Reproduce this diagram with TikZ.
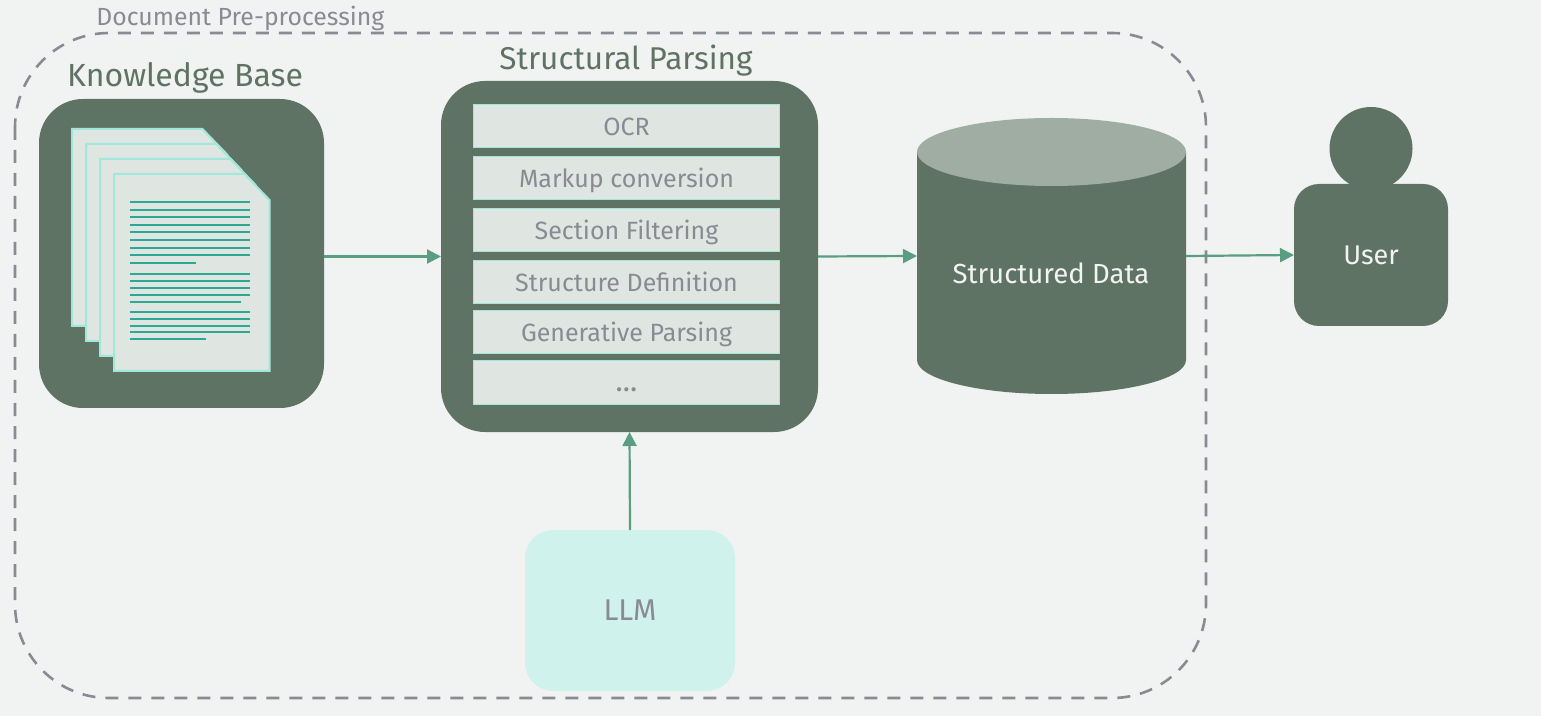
\documentclass[tikz,border=0pt]{standalone}
\usepackage{fontspec}
\setmainfont{Fira Sans}[Scale=1.0]
\usetikzlibrary{arrows.meta}
\definecolor{bgc}{HTML}{F1F3F2}
\definecolor{darkg}{HTML}{5F7364}
\definecolor{topg}{HTML}{A0ADA2}
\definecolor{paper}{HTML}{DFE5E0}
\definecolor{mint}{HTML}{9FE8DA}
\definecolor{llmc}{HTML}{CFF3EC}
\definecolor{greyt}{HTML}{8A8A92}
\definecolor{arrowc}{HTML}{5A9E82}
\definecolor{linec}{HTML}{2AA994}
\tikzset{
  x=0.5pt,y=-0.5pt,
  hbox/.style={fill=darkg,draw=none,rounded corners=22pt,inner sep=0pt,outer sep=0pt},
  row/.style={fill=paper,draw=mint,line width=0.8pt,inner sep=0pt,outer sep=0pt,minimum width=153pt,text=greyt,text height=12pt,text depth=2.5pt,font=\fontsize{12.5}{15}\selectfont},
  flow/.style={draw=arrowc,line width=1.1pt,-{Triangle[length=7pt,width=7pt]}},
  page/.style={fill=paper,draw=mint,line width=1pt,line join=miter},
  txt/.style={line width=1pt,draw=linec},
  title/.style={text=darkg,inner sep=0pt},
}
\newcommand{\docpage}[2]{%
  \draw[page] (#1,#2) -- (#1+130.5,#2) -- (#1+155.5,#2+26) -- (#1+155.5,#2+197) -- (#1,#2+197) -- cycle;}
\newcommand{\tl}[2][250]{\draw[txt] (130,#2) -- (#1,#2);}
\begin{document}
\begin{tikzpicture}
\useasboundingbox (0,0) rectangle (1541,716);
\fill[bgc] (0,0) rectangle (1541,716);
% dashed frame
\draw[greyt,line width=1.3pt,dash pattern=on 6.5pt off 5pt,rounded corners=47pt] (15,33) rectangle (1206,698);
\node[anchor=west,text=greyt,inner sep=0pt,font=\fontsize{12.4}{15}\selectfont] (prep) at (96,18) {Document Pre-processing};
% knowledge base
\node[hbox,minimum width=142.5pt,minimum height=154.5pt] (kb) at (181.5,253.5) {};
\node[title,font=\fontsize{16}{18}\selectfont] (kbt) at (185,78) {Knowledge Base};
\docpage{72}{129}\docpage{86}{144}\docpage{100}{159}\docpage{114}{174}
\tl{202}\tl{210}\tl{217}\tl{225}\tl{232}\tl{240}\tl{248}\tl{255}\tl[196]{263}
\tl{274}\tl{281}\tl{288}\tl{295}\tl[241]{302}
\tl{312}\tl{319}\tl{326}\tl{332}\tl[206]{339}
% structural parsing
\node[hbox,minimum width=188.5pt,minimum height=175.5pt] (sp) at (629.5,256.5) {};
\node[title,font=\fontsize{15.75}{18}\selectfont] (spt) at (626,60.5) {Structural Parsing};
\node[row,minimum height=21.5pt] (r1) at (626.5,126) {OCR};
\node[row,minimum height=21.5pt] (r2) at (626.5,178) {Markup conversion};
\node[row,minimum height=21.5pt] (r3) at (626.5,230) {Section Filtering};
\node[row,minimum height=21.5pt] (r4) at (626.5,282) {Structure Definition};
\node[row,minimum height=21.5pt] (r5) at (626.5,332) {Generative Parsing};
\node[row,minimum height=22pt,font=\fontsize{15}{15}\selectfont] (r6) at (626.5,382.5) {...};
% LLM
\node[fill=llmc,rounded corners=14pt,minimum width=105pt,minimum height=80.5pt,inner sep=0pt,outer sep=0pt,text=greyt,font=\fontsize{15}{16}\selectfont] (llm) at (630,610.5) {\raisebox{-0.5pt}{LLM}};
% cylinder
\node[minimum width=134.5pt,minimum height=138pt,inner sep=0pt,outer sep=0pt] (db) at (1051.5,256) {};
\fill[darkg] (917,152) -- (917,360) arc[start angle=180,end angle=0,x radius=134.5,y radius=34] -- (1186,152) -- cycle;
\fill[topg] (1051.5,152) ellipse[x radius=134.5,y radius=34];
\node[text=white!92!darkg,inner sep=0pt,font=\fontsize{13.8}{16}\selectfont] (dbt) at (1051,273) {Structured Data};
% user
\node[circle,fill=darkg,minimum size=41.5pt,inner sep=0pt] (head) at (1371,148.5) {};
\node[hbox,rounded corners=12.5pt,minimum width=77pt,minimum height=71pt,text=white!92!darkg,font=\fontsize{13.5}{16}\selectfont] (user) at (1371,255) {\raisebox{-1pt}{User}};
% connectors
\draw[flow] (kb.east |- sp.west) -- (sp.west);
\draw[flow] (llm.north) -- (sp.south);
\draw[flow] (sp.east) -- (db.west);
\draw[flow] (db.east) -- (user.west);
\end{tikzpicture}
\end{document}
